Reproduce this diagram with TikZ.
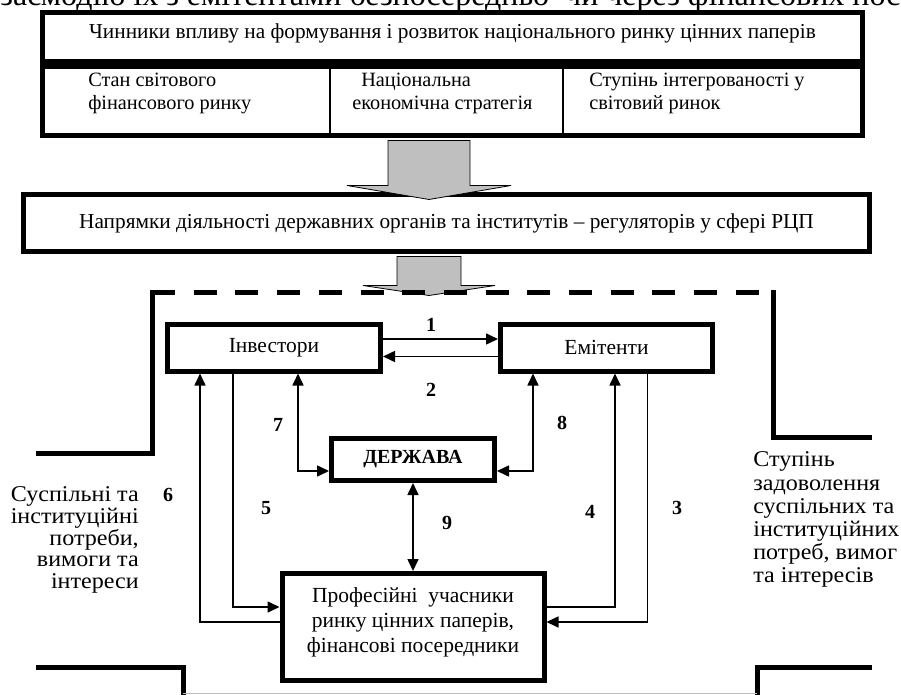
\documentclass[tikz,border=0pt]{standalone}
\usepackage{fontspec}
\setmainfont{Liberation Serif}
\newfontfamily\widefont[FakeStretch=1.07]{Liberation Serif}
\usepackage{tikz}
\usetikzlibrary{arrows.meta,positioning}

\begin{document}
\begin{tikzpicture}[x=1pt,y=-1pt,>={Triangle[length=12pt,width=11pt]},
    semithick]
\tikzstyle{frame}=[draw, line width=5pt, inner sep=0pt]
\tikzstyle{topfont}=[font=\fontsize{21.3}{23}\selectfont]
\tikzstyle{cellfont}=[font=\fontsize{20.3}{23}\selectfont]
\tikzstyle{block}=[draw, line width=5pt, inner sep=2pt, align=center,
    font=\fontsize{21.5}{25}\selectfont]
\tikzstyle{link}=[line width=1.6pt]
\tikzstyle{num}=[inner sep=0pt, font=\fontsize{20}{20}\bfseries\selectfont]
\tikzstyle{side}=[inner sep=0pt]
\tikzstyle{border}=[line width=5pt]
\tikzstyle{bigarrow}=[fill=black!25, draw=black, line width=0.8pt]

\path[use as bounding box, clip] (0,0) rectangle (901,695);

% cut-off line of the page text
\node[anchor=base west, inner sep=0pt, font=\fontsize{32}{32}\selectfont]
    (body) at (-15,6) {взаємодію їх з емітентами безпосередньо\ \ чи через фінансових посередників};

% factors
\node[frame, minimum width=820pt, minimum height=49pt]            (fhead) at (452.5,37) {};
\node[frame, minimum width=820pt, minimum height=69pt, below=0pt of fhead] (frow) {};
\draw[line width=1.2pt] ([xshift=-122.5pt]frow.north) -- ([xshift=-122.5pt]frow.south);
\draw[line width=1.2pt] ([xshift=110.5pt]frow.north)  -- ([xshift=110.5pt]frow.south);

\node[topfont] (ftitle) at ([yshift=4pt]fhead.center)
    {Чинники впливу на формування і розвиток національного ринку цінних паперів};
\node[cellfont, align=left, anchor=west, inner sep=0pt] (f1) at (88,93.5)
    {Стан світового\\фінансового ринку};
\node[cellfont, align=left, anchor=west, inner sep=0pt] (f2) at (352,93.5)
    {\hspace*{9pt}Національна\\економічна стратегія};
\node[cellfont, align=left, anchor=west, inner sep=0pt] (f3) at (589,93.5)
    {Ступінь інтегрованості у\\світовий ринок};

% regulators
\node[frame, topfont, minimum width=846pt, minimum height=57pt] (napr) at (446.5,223)
    {Напрямки діяльності державних органів та інститутів – регуляторів у сфері РЦП};

\coordinate (a1) at ([xshift=-23.5pt,yshift=-2.5pt]frow.south);
\draw[bigarrow] (a1) ++(-41,0) -- ++(0,45) -- ++(-41,0) -- ++(82,14)
    -- ++(82,-14) -- ++(-41,0) -- ++(0,-45) -- cycle;
\coordinate (a2) at ([xshift=-17.5pt,yshift=-2.5pt]napr.south);
\draw[bigarrow] (a2) ++(-32,0) -- ++(0,29) -- ++(-34,0) -- ++(66,10)
    -- ++(66,-10) -- ++(-34,0) -- ++(0,-29) -- cycle;

% market frame
\draw[border] (36,453) -- (152,453) -- (152,292.5) -- (165,292.5);
\draw[border, dash pattern=on 23pt off 18.7pt] (152,292.5) -- (759,292.5);
\draw[border] (773,290) -- (773,437) -- (872,437);
\draw[border] (36,667) -- (183,667) -- (183,700);
\draw[border] (872,667) -- (757,667) -- (757,700);
\draw[black!25, line width=0.8pt] (183,693) -- (757,693);

% participants
\node[block, minimum width=213pt, minimum height=47pt]                     (inv)   at (274,347.5) {Інвестори};
\node[block, minimum width=212pt, minimum height=47pt, right=115pt of inv] (emit)  {Емітенти};
\node[block, minimum width=163pt, minimum height=42pt,
      font=\fontsize{20}{22}\bfseries\selectfont]                          (derzh) at (413,459.5) {ДЕРЖАВА};
\node[block, minimum width=262pt, minimum height=107pt, text depth=14.5pt,
      below=88pt of derzh]                                                 (prof)
    {Професійні\ \ учасники\\ринку цінних паперів,\\фінансові посередники};

\draw[link,->]  ([yshift=8.5pt]inv.east)   -- ([yshift=8.5pt]emit.west);
\draw[link,->]  ([yshift=-9pt]emit.west)   -- ([yshift=-9pt]inv.east);
\draw[link,->]  ([xshift=41pt]emit.south)  |- ([yshift=5pt]prof.east);
\draw[link,->]  ([yshift=20pt]prof.east)   -| ([xshift=8.5pt]emit.south);
\draw[link,->]  ([xshift=-41pt]inv.south)  |- ([yshift=20pt]prof.west);
\draw[link,->]  ([yshift=5pt]prof.west)    -| ([xshift=-74pt]inv.south);
\draw[link,<->] ([xshift=24pt]inv.south)   |- ([yshift=-11.5pt]derzh.west);
\draw[link,<->] ([xshift=-73.5pt]emit.south) |- ([yshift=-11.5pt]derzh.east);
\draw[link,<->] (derzh.south) -- (prof.north);

\node[num] (n1) at (431,325) {1};
\node[num] (n2) at (431,390) {2};
\node[num] (n3) at (677,508) {3};
\node[num] (n4) at (590,512) {4};
\node[num] (n5) at (266,508) {5};
\node[num] (n6) at (168,495) {6};
\node[num] (n7) at (278,425) {7};
\node[num] (n8) at (562,423) {8};
\node[num] (n9) at (447,523) {9};

\node[side, anchor=north east, align=right, font=\widefont\fontsize{22.5}{21.7}\selectfont] (needs) at (139,486.6)
    {Суспільні та\\інституційні\\потреби,\\вимоги та\\інтереси};
\node[side, anchor=north west, align=left, font=\widefont\fontsize{22.5}{23.2}\selectfont] (satisf) at (753,451.6)
    {Ступінь\\задоволення\\суспільних та\\інституційних\\потреб, вимог\\та інтересів};

\end{tikzpicture}
\end{document}
